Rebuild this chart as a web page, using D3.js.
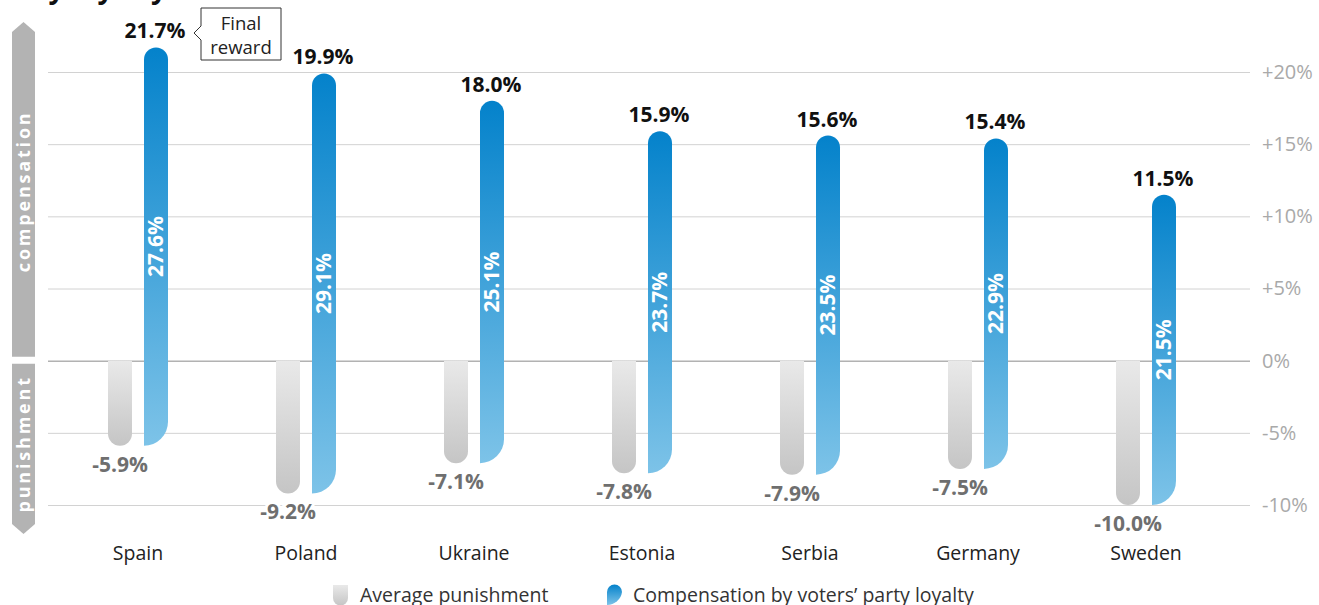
<!DOCTYPE html>
<html>
<head>
<meta charset="utf-8">
<script src="https://cdn.jsdelivr.net/npm/d3@7"></script>
<style>
  body { margin: 0; background: #fff; }
  svg { font-family: "Open Sans", "Noto Sans", sans-serif; }
</style>
</head>
<body>
<svg id="chart" width="1319" height="605"></svg>
<script>
const countries = ["Spain", "Poland", "Ukraine", "Estonia", "Serbia", "Germany", "Sweden"];
const punishment = [-5.9, -9.2, -7.1, -7.8, -7.9, -7.5, -10.0];
const finalReward = [21.7, 19.9, 18.0, 15.9, 15.6, 15.4, 11.5];
const compensation = [27.6, 29.1, 25.1, 23.7, 23.5, 22.9, 21.5];
const yTicks = [-10, -5, 0, 5, 10, 15, 20];
const series = ["punishment", "compensation"];

const svg = d3.select("#chart");
const defs = svg.append("defs");

// gradients
let gGray = defs.append("linearGradient").attr("id", "grad-gray")
    .attr("x1", 0).attr("y1", 0).attr("x2", 0).attr("y2", 1);
gGray.append("stop").attr("offset", "0%").attr("stop-color", "#e9e9e9");
gGray.append("stop").attr("offset", "100%").attr("stop-color", "#c5c5c5");

let gBlue = defs.append("linearGradient").attr("id", "grad-blue")
    .attr("x1", 0).attr("y1", 0).attr("x2", 0).attr("y2", 1);
gBlue.append("stop").attr("offset", "0%").attr("stop-color", "#0482cb");
gBlue.append("stop").attr("offset", "100%").attr("stop-color", "#7dc3e8");

const y = d3.scaleLinear().domain([-10, 20]).range([505, 72]);
const x0 = d3.scaleBand().domain(countries).range([54, 1230]);
const x1 = d3.scaleBand().domain(series).range([0, x0.bandwidth()])
    .paddingInner(1 / 3).paddingOuter(1.5);
const w = x1.bandwidth();

// title (cut off at top)
svg.append("text")
    .attr("x", 167).attr("y", -2)
    .attr("text-anchor", "end")
    .attr("font-size", 28).attr("font-weight", "bold").attr("fill", "#111")
    .text("Punishment and compensation by party loyalty");

// grid + axis
const axis = svg.append("g")
    .attr("transform", "translate(48,0)")
    .call(d3.axisRight(y).tickValues(yTicks).tickSize(1202).tickPadding(12)
        .tickFormat(d => (d > 0 ? "+" : "") + d + "%"));
axis.select(".domain").remove();
axis.selectAll(".tick line").attr("stroke", d => d === 0 ? "#8a8a8a" : "#d2d2d2");
axis.selectAll(".tick text").attr("fill", "#a9a9a9").attr("font-size", 20)
    .attr("font-family", "'Open Sans', sans-serif");

// left side indicator bands
const bx = 12, bw = 23;
const compTop = y(20) - 50, compBot = y(0) - 4;
const punTop = y(0) + 3, punBot = y(-10) + 29;
svg.append("path")
    .attr("d", `M${bx},${compBot} L${bx},${compTop + 10} L${bx + bw / 2},${compTop} L${bx + bw},${compTop + 10} L${bx + bw},${compBot} Z`)
    .attr("fill", "#b3b3b3");
svg.append("path")
    .attr("d", `M${bx},${punTop} L${bx + bw},${punTop} L${bx + bw},${punBot - 10} L${bx + bw / 2},${punBot} L${bx},${punBot - 10} Z`)
    .attr("fill", "#b3b3b3");
[["compensation", (compTop + 10 + compBot) / 2 - 3], ["punishment", (punTop + punBot - 10) / 2]].forEach(([t, cy]) => {
  svg.append("text")
      .attr("transform", `translate(${bx + bw / 2 + 6},${cy}) rotate(-90)`)
      .attr("text-anchor", "middle")
      .attr("font-size", 18).attr("font-weight", "bold")
      .attr("letter-spacing", 2.8).attr("fill", "#fff")
      .text(t);
});

const data = countries.map((c, i) => ({
  country: c, pun: punishment[i], fin: finalReward[i], comp: compensation[i]
}));

const groups = svg.selectAll(".country").data(data).enter().append("g")
    .attr("transform", d => `translate(${x0(d.country)},0)`);

// gray punishment bars (flat top, round bottom)
groups.append("path")
    .attr("fill", "url(#grad-gray)")
    .attr("d", d => {
      const xa = x1("punishment"), top = y(0), bot = y(d.pun), r = w / 2;
      return `M${xa},${top} L${xa + w},${top} L${xa + w},${bot - r} A${r},${r} 0 0 1 ${xa},${bot - r} Z`;
    });

// blue compensation bars
groups.append("path")
    .attr("fill", "url(#grad-blue)")
    .attr("d", d => {
      const xa = x1("compensation"), top = y(d.fin), bot = y(d.pun), r = w / 2;
      return `M${xa},${bot} L${xa},${top + r} A${r},${r} 0 0 1 ${xa + w},${top + r} L${xa + w},${bot - w} A${w},${w} 0 0 1 ${xa},${bot} Z`;
    });

// in-bar labels
groups.append("text")
    .attr("transform", d => `translate(${x1("compensation") + w / 2 + 7},${(y(d.fin) + y(d.pun)) / 2}) rotate(-90)`)
    .attr("text-anchor", "middle")
    .attr("font-size", 21).attr("font-weight", "bold").attr("fill", "#fff")
    .text(d => d.comp.toFixed(1) + "%");

// final reward labels
groups.append("text")
    .attr("x", x1("compensation") + w / 2 - 1)
    .attr("y", d => y(d.fin) - 9)
    .attr("text-anchor", "middle")
    .attr("font-size", 21).attr("font-weight", "bold").attr("fill", "#111")
    .text(d => d.fin.toFixed(1) + "%");

// punishment labels
groups.append("text")
    .attr("x", x1("punishment") + w / 2)
    .attr("y", d => y(d.pun) + 26)
    .attr("text-anchor", "middle")
    .attr("font-size", 21).attr("font-weight", "bold").attr("fill", "#6f6f6f")
    .attr("stroke", "#fff").attr("stroke-width", 6).attr("paint-order", "stroke")
    .text(d => d.pun.toFixed(1) + "%");

// category labels
groups.append("text")
    .attr("x", x0.bandwidth() / 2)
    .attr("y", 560)
    .attr("text-anchor", "middle")
    .attr("font-size", 19.5).attr("fill", "#222")
    .text(d => d.country);

// callout
const cg = svg.append("g");
const cx = x0("Spain") + x1("compensation") + w + 33;
cg.append("path")
    .attr("d", `M${cx},${8} L${cx + 80},${8} L${cx + 80},${60} L${cx},${60} L${cx},${40} L${cx - 7},${33} L${cx},${26} Z`)
    .attr("fill", "#fff").attr("stroke", "#333").attr("stroke-width", 1);
cg.append("text").attr("x", cx + 40).attr("y", 30).attr("text-anchor", "middle")
    .attr("font-size", 18.5).attr("fill", "#222").text("Final");
cg.append("text").attr("x", cx + 40).attr("y", 54).attr("text-anchor", "middle")
    .attr("font-size", 18.5).attr("fill", "#222").text("reward");

// legend
const lg = svg.append("g");
lg.append("path")
    .attr("d", "M333,585 L348,585 L348,598 A7.5,7.5 0 0 1 333,598 Z")
    .attr("fill", "url(#grad-gray)");
lg.append("text").attr("x", 360).attr("y", 602)
    .attr("font-size", 19.5).attr("fill", "#333").text("Average punishment");
lg.append("path")
    .attr("d", "M607,605 L607,592 A7.5,7.5 0 0 1 622,592 L622,592 A15,15 0 0 1 607,605 Z")
    .attr("fill", "url(#grad-blue)");
lg.append("text").attr("x", 633).attr("y", 602)
    .attr("font-size", 19.5).attr("fill", "#333").text("Compensation by voters’ party loyalty");
</script>
</body>
</html>
